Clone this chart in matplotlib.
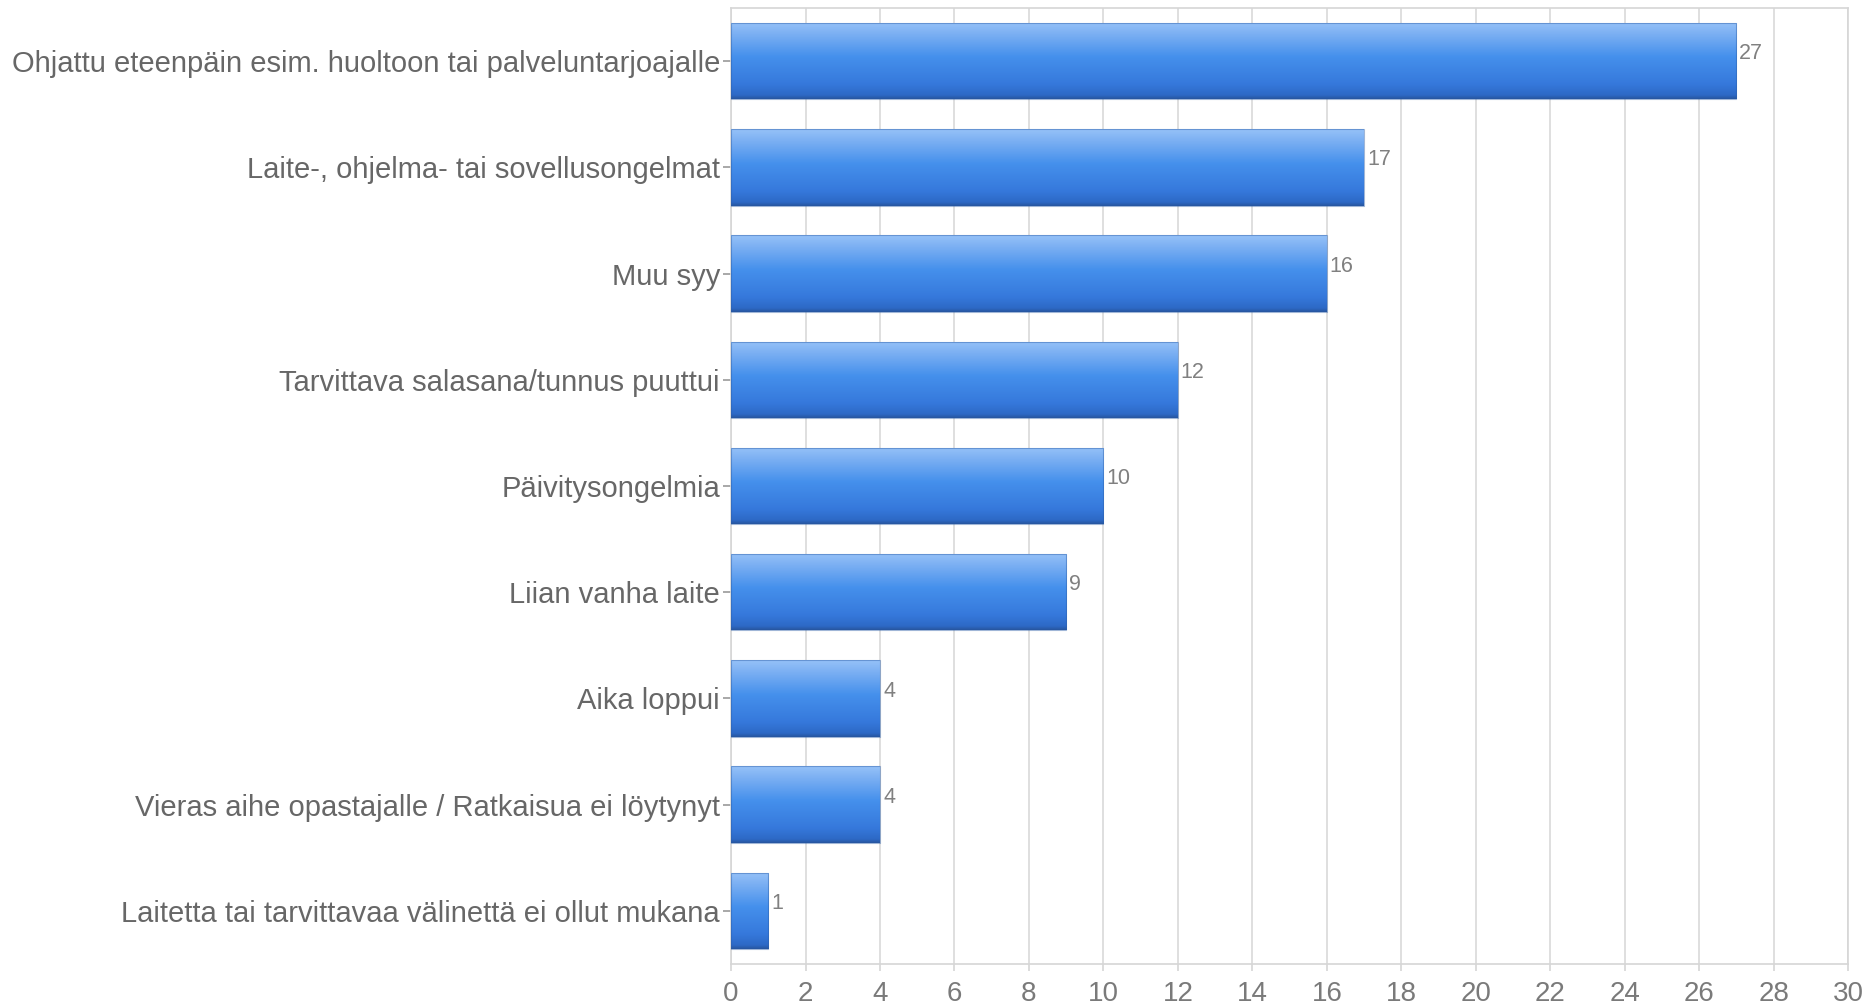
import numpy as np
import matplotlib
matplotlib.use("Agg")
import matplotlib.pyplot as plt
from matplotlib.colors import LinearSegmentedColormap

plt.rcParams['font.family'] = ['Liberation Sans', 'DejaVu Sans']

categories = [
    "Ohjattu eteenpäin esim. huoltoon tai palveluntarjoajalle",
    "Laite-, ohjelma- tai sovellusongelmat",
    "Muu syy",
    "Tarvittava salasana/tunnus puuttui",
    "Päivitysongelmia",
    "Liian vanha laite",
    "Aika loppui",
    "Vieras aihe opastajalle / Ratkaisua ei löytynyt",
    "Laitetta tai tarvittavaa välinettä ei ollut mukana",
]
counts = [27, 17, 16, 12, 10, 9, 4, 4, 1]
x_ticks = list(range(0, 31, 2))

text_grey = "#676767"
grid_grey = "#d6d6d6"

fig = plt.figure(figsize=(18.66, 10.05), dpi=100)
ax = fig.add_axes([0.3918, 0.0408, 0.9904 - 0.3918, 0.992 - 0.0408])

y = np.arange(len(categories))
bar_h = 0.72

bars = ax.barh(y, counts, height=bar_h, color="#3a84e2", edgecolor="none", zorder=2)

# vertical gradient: light top, saturated middle, darker bottom
grad_cmap = LinearSegmentedColormap.from_list(
    "bar_grad",
    [(0.0, "#96c2f8"), (0.15, "#7cb0f3"), (0.45, "#4590ec"),
     (0.8, "#3679dc"), (0.95, "#2d69c6"), (1.0, "#27569e")])
grad = np.linspace(0, 1, 256).reshape(-1, 1)
for rect in bars:
    x0, y0 = rect.get_x(), rect.get_y()
    w, h = rect.get_width(), rect.get_height()
    im = ax.imshow(grad, cmap=grad_cmap, aspect="auto",
                   extent=(x0, x0 + w, y0 + h, y0), zorder=3,
                   interpolation="bilinear")
    im.set_clip_path(rect)
    ax.add_patch(plt.Rectangle((x0, y0), w, h, fill=False,
                               edgecolor="#2d5fa8", linewidth=0.8,
                               alpha=0.45, zorder=4))

for yi, v in zip(y, counts):
    ax.text(v + 0.08, yi - 0.07, str(v), va="center", ha="left",
            fontsize=15.5, color="#808080", zorder=5)

ax.set_xlim(0, 30)
ax.set_ylim(len(categories) - 0.5, -0.5)
ax.set_xticks(x_ticks)
ax.set_xticklabels([str(t) for t in x_ticks])
ax.set_yticks(y)
ax.set_yticklabels(categories)

ax.grid(axis="x", color=grid_grey, linewidth=1.1, zorder=0)
ax.set_axisbelow(True)
for side in ["top", "right", "left", "bottom"]:
    ax.spines[side].set_color(grid_grey)
    ax.spines[side].set_linewidth(1.2)

ax.tick_params(axis="y", length=6, width=1.2, color="#9a9a9a",
               labelsize=21, labelcolor=text_grey, pad=2)
ax.tick_params(axis="x", length=5, width=1.2, color=grid_grey,
               labelsize=20, labelcolor="#7a7a7a", pad=7)

fig.savefig("out.png", dpi=100, facecolor="white")
